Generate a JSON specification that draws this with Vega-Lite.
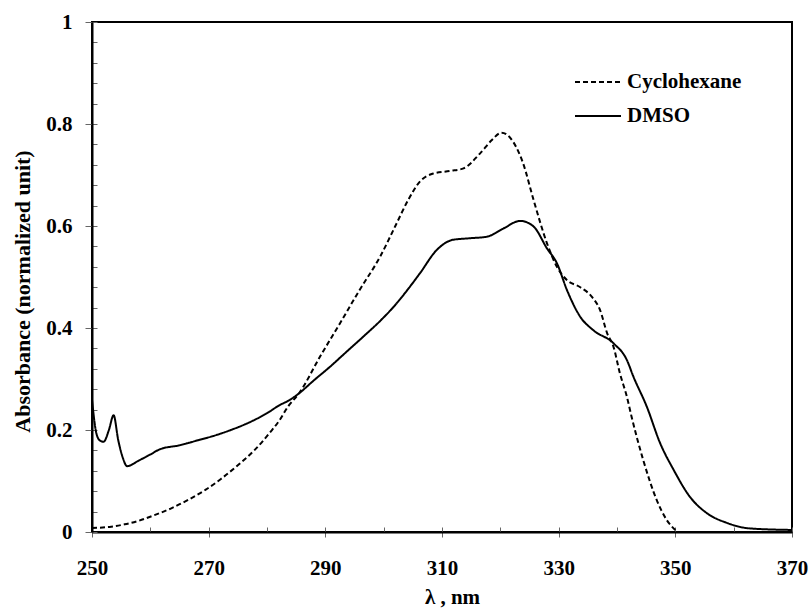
{
  "$schema": "https://vega.github.io/schema/vega-lite/v6.json",
  "width": 700,
  "height": 510,
  "autosize": {"type": "none"},
  "padding": {"left": 92, "top": 22, "right": 19, "bottom": 76},
  "background": "white",
  "config": {
    "view": {"stroke": "black", "strokeWidth": 2},
    "font": "Liberation Serif",
    "axis": {"grid": false, "labelFlush": false, "labelOverlap": false, "labelFont": "Liberation Serif", "titleFont": "Liberation Serif", "labelFontWeight": "bold", "titleFontWeight": "bold", "labelColor": "black", "titleColor": "black"}
  },
  "data": {"values": [
    {"series": "Cyclohexane", "wl": 250, "abs": 0.008},
    {"series": "Cyclohexane", "wl": 253, "abs": 0.010},
    {"series": "Cyclohexane", "wl": 255.6, "abs": 0.015},
    {"series": "Cyclohexane", "wl": 258, "abs": 0.022},
    {"series": "Cyclohexane", "wl": 260.7, "abs": 0.033},
    {"series": "Cyclohexane", "wl": 263.5, "abs": 0.046},
    {"series": "Cyclohexane", "wl": 266.5, "abs": 0.063},
    {"series": "Cyclohexane", "wl": 269.5, "abs": 0.083},
    {"series": "Cyclohexane", "wl": 272.1, "abs": 0.104},
    {"series": "Cyclohexane", "wl": 275, "abs": 0.131},
    {"series": "Cyclohexane", "wl": 277.9, "abs": 0.161},
    {"series": "Cyclohexane", "wl": 280.5, "abs": 0.195},
    {"series": "Cyclohexane", "wl": 282.2, "abs": 0.220},
    {"series": "Cyclohexane", "wl": 283.6, "abs": 0.246},
    {"series": "Cyclohexane", "wl": 285.5, "abs": 0.272},
    {"series": "Cyclohexane", "wl": 289.1, "abs": 0.344},
    {"series": "Cyclohexane", "wl": 292.5, "abs": 0.409},
    {"series": "Cyclohexane", "wl": 295.9, "abs": 0.475},
    {"series": "Cyclohexane", "wl": 299.4, "abs": 0.540},
    {"series": "Cyclohexane", "wl": 302, "abs": 0.600},
    {"series": "Cyclohexane", "wl": 304.2, "abs": 0.651},
    {"series": "Cyclohexane", "wl": 306.2, "abs": 0.687},
    {"series": "Cyclohexane", "wl": 308.5, "abs": 0.703},
    {"series": "Cyclohexane", "wl": 311.4, "abs": 0.708},
    {"series": "Cyclohexane", "wl": 313.7, "abs": 0.713},
    {"series": "Cyclohexane", "wl": 316.5, "abs": 0.742},
    {"series": "Cyclohexane", "wl": 318.5, "abs": 0.768},
    {"series": "Cyclohexane", "wl": 320.2, "abs": 0.783},
    {"series": "Cyclohexane", "wl": 322.2, "abs": 0.765},
    {"series": "Cyclohexane", "wl": 323.9, "abs": 0.723},
    {"series": "Cyclohexane", "wl": 325.7, "abs": 0.651},
    {"series": "Cyclohexane", "wl": 328.0, "abs": 0.566},
    {"series": "Cyclohexane", "wl": 329.7, "abs": 0.520},
    {"series": "Cyclohexane", "wl": 331.4, "abs": 0.494},
    {"series": "Cyclohexane", "wl": 333.7, "abs": 0.480},
    {"series": "Cyclohexane", "wl": 335.7, "abs": 0.461},
    {"series": "Cyclohexane", "wl": 337.1, "abs": 0.435},
    {"series": "Cyclohexane", "wl": 338.3, "abs": 0.390},
    {"series": "Cyclohexane", "wl": 339.4, "abs": 0.363},
    {"series": "Cyclohexane", "wl": 340.5, "abs": 0.311},
    {"series": "Cyclohexane", "wl": 341.7, "abs": 0.265},
    {"series": "Cyclohexane", "wl": 342.5, "abs": 0.226},
    {"series": "Cyclohexane", "wl": 344.5, "abs": 0.141},
    {"series": "Cyclohexane", "wl": 346.8, "abs": 0.063},
    {"series": "Cyclohexane", "wl": 348.5, "abs": 0.024},
    {"series": "Cyclohexane", "wl": 350, "abs": 0.004},
    {"series": "DMSO", "wl": 250, "abs": 0.259},
    {"series": "DMSO", "wl": 250.7, "abs": 0.196},
    {"series": "DMSO", "wl": 251.3, "abs": 0.180},
    {"series": "DMSO", "wl": 252.0, "abs": 0.177},
    {"series": "DMSO", "wl": 252.9, "abs": 0.200},
    {"series": "DMSO", "wl": 253.7, "abs": 0.229},
    {"series": "DMSO", "wl": 254.5, "abs": 0.180},
    {"series": "DMSO", "wl": 255.3, "abs": 0.145},
    {"series": "DMSO", "wl": 256.0, "abs": 0.129},
    {"series": "DMSO", "wl": 258, "abs": 0.140},
    {"series": "DMSO", "wl": 260, "abs": 0.152},
    {"series": "DMSO", "wl": 261.6, "abs": 0.162},
    {"series": "DMSO", "wl": 265, "abs": 0.170},
    {"series": "DMSO", "wl": 268.2, "abs": 0.180},
    {"series": "DMSO", "wl": 271, "abs": 0.189},
    {"series": "DMSO", "wl": 273.8, "abs": 0.200},
    {"series": "DMSO", "wl": 277.9, "abs": 0.220},
    {"series": "DMSO", "wl": 280, "abs": 0.233},
    {"series": "DMSO", "wl": 282.2, "abs": 0.249},
    {"series": "DMSO", "wl": 283.6, "abs": 0.257},
    {"series": "DMSO", "wl": 285.5, "abs": 0.272},
    {"series": "DMSO", "wl": 288, "abs": 0.297},
    {"series": "DMSO", "wl": 290.8, "abs": 0.324},
    {"series": "DMSO", "wl": 293.5, "abs": 0.352},
    {"series": "DMSO", "wl": 296.5, "abs": 0.383},
    {"series": "DMSO", "wl": 299.5, "abs": 0.415},
    {"series": "DMSO", "wl": 302.2, "abs": 0.448},
    {"series": "DMSO", "wl": 304.3, "abs": 0.478},
    {"series": "DMSO", "wl": 306.2, "abs": 0.507},
    {"series": "DMSO", "wl": 309.1, "abs": 0.553},
    {"series": "DMSO", "wl": 311.9, "abs": 0.573},
    {"series": "DMSO", "wl": 314.8, "abs": 0.576},
    {"series": "DMSO", "wl": 317.7, "abs": 0.579},
    {"series": "DMSO", "wl": 320.5, "abs": 0.595},
    {"series": "DMSO", "wl": 323.4, "abs": 0.610},
    {"series": "DMSO", "wl": 325.7, "abs": 0.599},
    {"series": "DMSO", "wl": 328.0, "abs": 0.556},
    {"series": "DMSO", "wl": 329.7, "abs": 0.527},
    {"series": "DMSO", "wl": 331.4, "abs": 0.475},
    {"series": "DMSO", "wl": 333.7, "abs": 0.422},
    {"series": "DMSO", "wl": 335.9, "abs": 0.396},
    {"series": "DMSO", "wl": 339.4, "abs": 0.370},
    {"series": "DMSO", "wl": 341.7, "abs": 0.337},
    {"series": "DMSO", "wl": 342.8, "abs": 0.305},
    {"series": "DMSO", "wl": 345.1, "abs": 0.246},
    {"series": "DMSO", "wl": 347.4, "abs": 0.174},
    {"series": "DMSO", "wl": 349.7, "abs": 0.122},
    {"series": "DMSO", "wl": 352.5, "abs": 0.069},
    {"series": "DMSO", "wl": 355.4, "abs": 0.037},
    {"series": "DMSO", "wl": 358.8, "abs": 0.018},
    {"series": "DMSO", "wl": 362.8, "abs": 0.007},
    {"series": "DMSO", "wl": 370, "abs": 0.004}
  ]},
  "resolve": {"axis": {"x": "independent", "y": "independent"}},
  "layer": [
    {
      "transform": [{"filter": "datum.series === 'Cyclohexane'"}],
      "mark": {"type": "line", "interpolate": "monotone", "color": "black", "strokeWidth": 2},
      "encoding": {
        "x": {"field": "wl", "type": "quantitative", "scale": {"domain": [250, 370], "nice": false, "zero": false},
          "axis": {"orient": "bottom", "values": [250, 260, 270, 280, 290, 300, 310, 320, 330, 340, 350, 360, 370], "labels": false, "domain": false, "tickSize": -5, "tickColor": "#666", "tickWidth": 1, "title": null}},
        "y": {"field": "abs", "type": "quantitative", "scale": {"domain": [0, 1], "nice": false},
          "axis": {"orient": "left", "values": [0, 0.04, 0.08, 0.12, 0.16, 0.2, 0.24, 0.28, 0.32, 0.36, 0.4, 0.44, 0.48, 0.52, 0.56, 0.6, 0.64, 0.68, 0.72, 0.76, 0.8, 0.84, 0.88, 0.92, 0.96, 1], "labels": false, "domain": false, "tickSize": -5, "tickColor": "#666", "tickWidth": 1, "title": null}},
        "strokeDash": {"field": "series", "type": "nominal",
          "scale": {"domain": ["Cyclohexane", "DMSO"], "range": [[5, 3], [1, 0]]},
          "legend": {"title": null, "orient": "none", "legendX": 482, "legendY": 36, "symbolType": "stroke", "symbolSize": 2116, "symbolStrokeWidth": 2, "symbolStrokeColor": "black", "labelFont": "Liberation Serif", "labelFontWeight": "bold", "labelFontSize": 21, "labelColor": "black", "labelOffset": 5, "rowPadding": -7}}
      }
    },
    {
      "transform": [{"filter": "datum.series === 'DMSO'"}],
      "mark": {"type": "line", "interpolate": "monotone", "color": "black", "strokeWidth": 2},
      "encoding": {
        "x": {"field": "wl", "type": "quantitative",
          "axis": {"orient": "bottom", "values": [250, 270, 290, 310, 330, 350, 370], "domain": true, "domainColor": "black", "domainWidth": 2, "tickSize": 5, "tickColor": "#666", "tickWidth": 1, "labelFontSize": 21, "labelPadding": 37, "labelBaseline": "alphabetic", "title": "λ , nm", "titleFontSize": 21, "titleX": 360, "titleY": 71, "titleBaseline": "alphabetic", "titleAnchor": null}},
        "y": {"field": "abs", "type": "quantitative",
          "axis": {"orient": "left", "values": [0, 0.2, 0.4, 0.6, 0.8, 1], "format": "~g", "domain": true, "domainColor": "black", "domainWidth": 2, "tickSize": 7, "tickColor": "#666", "tickWidth": 1, "labelFontSize": 21, "labelPadding": 13, "title": "Absorbance (normalized unit)", "titleFontSize": 22, "titleX": -70, "titleY": 269, "titleAngle": -90, "titleBaseline": "middle", "titleAlign": "center"}},
        "strokeDash": {"field": "series", "type": "nominal"}
      }
    }
  ]
}
